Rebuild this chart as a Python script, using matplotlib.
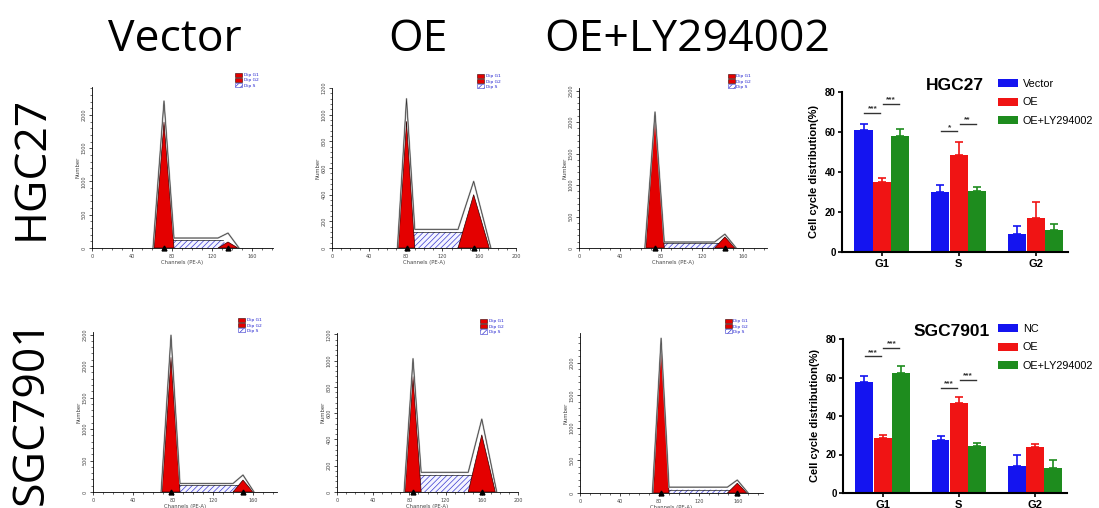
import matplotlib
matplotlib.use('Agg')
import matplotlib.pyplot as plt
from matplotlib.patches import Patch, Polygon
from matplotlib.ticker import MultipleLocator

# flow histograms, order: HGC27 Vector/OE/OE+LY, SGC7901 Vector/OE/OE+LY
x_max = [181, 200, 183, 184, 200, 185]
y_max = [2420, 1200, 2540, 2540, 1210, 2460]
y_step = [500, 200, 500, 500, 200, 500]
g1_center = [72, 81, 74, 78, 84, 82]
g1_height = [1895, 950, 2110, 2140, 880, 2250]
g1_width = [10, 9, 9, 9, 9, 8]
g1_total = [2210, 1120, 2160, 2490, 1015, 2380]
g2_center = [136, 154, 142, 150, 160, 159]
g2_height = [90, 400, 175, 190, 435, 150]
g2_width = [10, 17, 10, 10, 15, 10]
g2_total = [225, 500, 220, 270, 555, 200]
s_height = [120, 120, 80, 110, 130, 50]
s_total = [150, 140, 95, 135, 150, 90]

# pixel boxes (left, right, top, bottom) of the histogram axes
hist_boxes = [(92, 273, 87, 248), (332, 516, 88, 248), (579, 767, 88, 248),
              (93, 277, 332, 492), (337, 518, 333, 492), (580, 763, 333, 493)]

# bar charts
phases = ['G1', 'S', 'G2']
hgc_groups = ['Vector', 'OE', 'OE+LY294002']
hgc_means = [[61.1, 29.8, 8.9], [35.1, 48.5, 17.2], [58.2, 30.6, 10.9]]
hgc_errs = [[3.0, 3.7, 4.2], [1.9, 6.4, 7.9], [3.4, 2.0, 3.0]]
sgc_groups = ['NC', 'OE', 'OE+LY294002']
sgc_means = [[57.5, 27.7, 14.2], [28.6, 46.8, 23.9], [62.3, 24.6, 13.0]]
sgc_errs = [[3.5, 2.1, 5.4], [1.7, 3.1, 1.7], [3.5, 1.4, 4.3]]
# significance: (phase index, group a, group b, y, stars)
hgc_sig = [(0, 0, 1, 69.5, '***'), (0, 1, 2, 74.1, '***'), (1, 0, 1, 60.3, '*'), (1, 1, 2, 64.1, '**')]
sgc_sig = [(0, 0, 1, 71.0, '***'), (0, 1, 2, 75.3, '***'), (1, 0, 1, 54.5, '***'), (1, 1, 2, 58.9, '***')]

bar_colors = ['#1414f0', '#f01414', '#1e8c1e']
W, H = 1099, 508

plt.rcParams['hatch.linewidth'] = 0.5


def box_to_rect(left, right, top, bottom):
    return [left / W, (H - bottom) / H, (right - left) / W, (bottom - top) / H]


def draw_histogram(fig, i):
    ax = fig.add_axes(box_to_rect(*hist_boxes[i]))
    c1, c2 = g1_center[i], g2_center[i]
    w1, w2 = g1_width[i], g2_width[i]

    s_poly = Polygon([(c1, 0), (c1 + w1 * 0.5, s_height[i]), (c2 - w2 * 0.5, s_height[i]), (c2, 0)],
                     facecolor='#f4f4ff', edgecolor='#3a3ad0', hatch='//////', lw=0, zorder=1)
    ax.add_patch(s_poly)
    ax.plot([c1 + w1 * 0.5, c2 - w2 * 0.5], [s_height[i], s_height[i]], color='#222222', lw=0.5, zorder=2)

    for c, w, h in [(c1, w1, g1_height[i]), (c2, w2, g2_height[i])]:
        ax.add_patch(Polygon([(c - w, 0), (c, h), (c + w, 0)],
                             facecolor='#e40000', edgecolor='#300000', lw=0.5, zorder=3))

    env_x = [c1 - w1 * 1.1, c1, c1 + w1, c2 - w2, c2, c2 + w2 * 1.1]
    env_y = [0, g1_total[i], s_total[i], s_total[i], g2_total[i], 0]
    ax.plot(env_x, env_y, color='#b0b0b0', lw=1.2, zorder=4)
    ax.plot(env_x, env_y, color='#333333', lw=0.45, zorder=5)
    ax.plot([c1, c2], [0, 0], ls='none', marker='^', ms=3.5, color='black', clip_on=False, zorder=6)

    ax.set_xlim(0, x_max[i])
    ax.set_ylim(0, y_max[i])
    ax.xaxis.set_major_locator(MultipleLocator(40))
    ax.xaxis.set_minor_locator(MultipleLocator(10))
    ax.yaxis.set_major_locator(MultipleLocator(y_step[i]))
    ax.yaxis.set_minor_locator(MultipleLocator(y_step[i] / 5))
    ax.tick_params(which='major', length=2.5, width=0.5, labelsize=3.5, pad=1.5, labelcolor='#444444')
    ax.tick_params(which='minor', length=1.2, width=0.4)
    for lab in ax.get_yticklabels():
        lab.set_rotation(90)
        lab.set_va('center')
    for s in ['top', 'right']:
        ax.spines[s].set_visible(False)
    for s in ['left', 'bottom']:
        ax.spines[s].set_linewidth(0.6)
    ax.set_xlabel('Channels (PE-A)', fontsize=3.8, labelpad=1, color='#444444')
    ax.set_ylabel('Number', fontsize=3.8, labelpad=1, color='#444444')

    handles = [Patch(facecolor='#e40000', edgecolor='#300000', lw=0.4),
               Patch(facecolor='#e40000', edgecolor='#300000', lw=0.4),
               Patch(facecolor='white', edgecolor='#3a3ad0', hatch='//////', lw=0.4)]
    ax.legend(handles, ['Dip G1', 'Dip G2', 'Dip S'], loc='upper left', bbox_to_anchor=(0.79, 1.09),
              frameon=False, fontsize=3.2, labelcolor='#2020d0', handlelength=1.6, handleheight=1.1,
              labelspacing=0.15, borderpad=0, borderaxespad=0, handletextpad=0.4)


def draw_bars(fig, box, means, errs, groups, sig, title, title_xy, legend_xy):
    ax = fig.add_axes(box_to_rect(*box))
    offsets = [-0.24, 0, 0.24]
    for g in range(3):
        xs = [p + offsets[g] for p in range(len(phases))]
        ax.bar(xs, means[g], width=0.235, color=bar_colors[g], label=groups[g], zorder=2)
        ax.errorbar(xs, means[g], yerr=[[0] * 3, errs[g]], fmt='none', ecolor=bar_colors[g],
                    elinewidth=1.2, capsize=3, capthick=1.2, zorder=1)
    for p, a, b, y, stars in sig:
        x1 = p + offsets[a] + 0.01
        x2 = p + offsets[b] - 0.02
        ax.plot([x1, x2], [y, y], color='#333333', lw=1)
        ax.text((x1 + x2) / 2, y + 0.3, stars, ha='center', va='bottom', fontsize=6,
                fontweight='bold', family='Liberation Sans', color='#333333')
    ax.set_xlim(-0.52, 2.42)
    ax.set_ylim(0, 80)
    ax.set_yticks([0, 20, 40, 60, 80])
    ax.set_xticks(range(3))
    ax.set_xticklabels(phases)
    for s in ['top', 'right']:
        ax.spines[s].set_visible(False)
    for s in ['left', 'bottom']:
        ax.spines[s].set_linewidth(1.5)
    ax.tick_params(axis='y', length=3, width=1.2, labelsize=7, pad=1.5)
    ax.tick_params(axis='x', length=3, width=1.2, labelsize=8, pad=2)
    for lab in ax.get_xticklabels() + ax.get_yticklabels():
        lab.set_fontweight('bold')
        lab.set_family('Liberation Sans')
    ax.set_ylabel('Cell cycle distribution(%)', fontsize=8, fontweight='bold',
                  family='Liberation Sans', labelpad=4)
    fig.text(title_xy[0] / W, 1 - title_xy[1] / H, title, ha='center', va='center',
             fontsize=12.5, fontweight='bold', family='Liberation Sans')
    ax.legend(loc='upper left', bbox_to_anchor=(legend_xy[0] / W, 1 - legend_xy[1] / H),
              bbox_transform=fig.transFigure, frameon=False, prop={'family': 'Liberation Sans', 'size': 7.8},
              handlelength=1.8, handleheight=0.75, labelspacing=0.77, borderpad=0, borderaxespad=0,
              handletextpad=0.5)


fig = plt.figure(figsize=(W / 100, H / 100), dpi=100)

col_titles = ['Vector', 'OE', 'OE+LY294002']
col_x = [175, 418, 687]
for t, x in zip(col_titles, col_x):
    fig.text(x / W, 1 - 51 / H, t, ha='center', va='baseline', fontsize=32, family='Open Sans')

row_titles = ['HGC27', 'SGC7901']
row_y = [168, 412]
for t, y in zip(row_titles, row_y):
    fig.text(31 / W, 1 - y / H, t, ha='center', va='center', rotation=90, fontsize=32, family='Open Sans')

for i in range(6):
    draw_histogram(fig, i)

draw_bars(fig, (842, 1068, 92, 252), hgc_means, hgc_errs, hgc_groups, hgc_sig, 'HGC27', (955, 85), (998, 79))
draw_bars(fig, (843, 1067, 339, 493), sgc_means, sgc_errs, sgc_groups, sgc_sig, 'SGC7901', (952, 331), (998, 324))

fig.savefig('out.png', dpi=100)
